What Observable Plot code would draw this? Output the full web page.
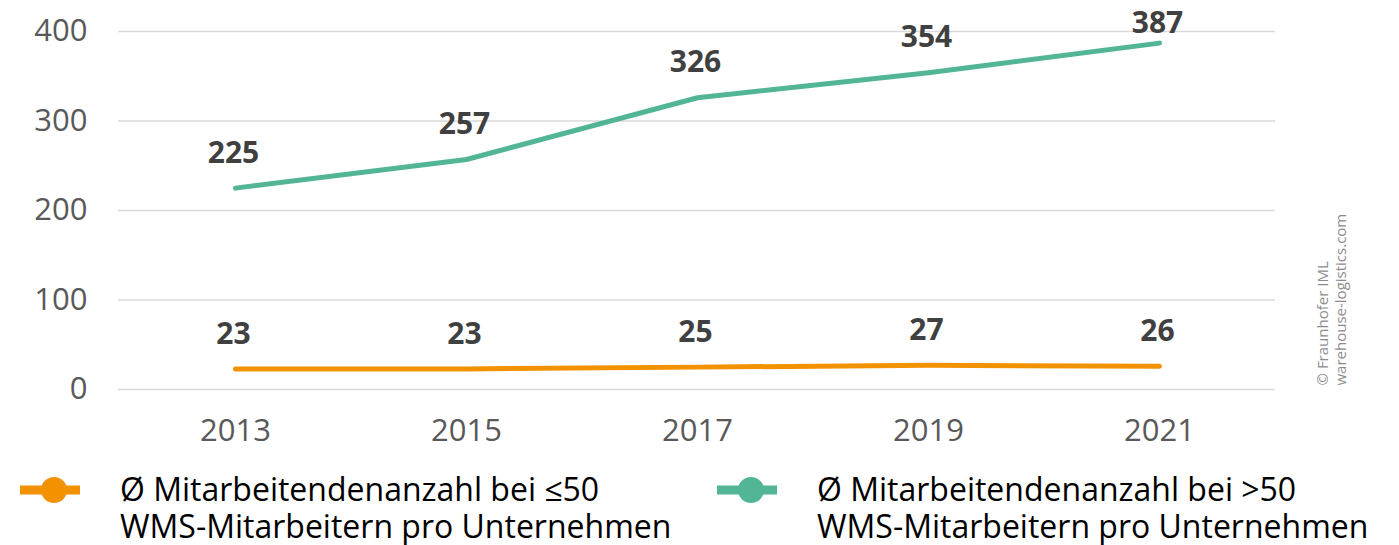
<!DOCTYPE html>
<html>
<head>
<meta charset="utf-8">
<script src="https://cdn.jsdelivr.net/npm/d3@7"></script>
<script src="https://cdn.jsdelivr.net/npm/@observablehq/plot@0.6"></script>
<style>
  html, body { margin: 0; padding: 0; background: #fff; }
  body { width: 1399px; height: 545px; overflow: hidden; font-family: "Open Sans", sans-serif; }
  #chart svg { display: block; }
  #legend { position: relative; height: 95px; }
  .item { position: absolute; top: 20px; display: flex; align-items: flex-start; }
  .item svg { display: block; margin-top: 4px; }
  .label { font-size: 32px; color: #000; margin-left: 38px; white-space: nowrap; }
  .label div { height: 37px; line-height: 37px; }
</style>
</head>
<body>
<div id="chart"></div>
<div id="legend"></div>
<script>
const years = ["2013", "2015", "2017", "2019", "2021"];
const smallValues = [23, 23, 25, 27, 26];
const largeValues = [225, 257, 326, 354, 387];
const yTicks = [0, 100, 200, 300, 400];
const seriesNames = [
  "Ø Mitarbeitendenanzahl bei ≤50\nWMS-Mitarbeitern pro Unternehmen",
  "Ø Mitarbeitendenanzahl bei >50\nWMS-Mitarbeitern pro Unternehmen"
];
const seriesColors = ["#f39200", "#52b596"];
const credit = "© Fraunhofer IML\nwarehouse-logistics.com";

const small = years.map((y, i) => ({year: y, value: smallValues[i]}));
const large = years.map((y, i) => ({year: y, value: largeValues[i]}));
const lastYear = years[years.length - 1];

const plot = Plot.plot({
  width: 1399,
  height: 450,
  marginLeft: 118,
  marginRight: 124,
  marginTop: 31,
  marginBottom: 61,
  style: {fontFamily: "Open Sans", fontSize: "31px", color: "#595959", background: "#fff"},
  x: {type: "point", domain: years, padding: 0.5, label: null, tickSize: 0, tickPadding: 29},
  y: {domain: [0, 400], ticks: yTicks, label: null, tickSize: 0, tickPadding: 31},
  marks: [
    Plot.gridY(yTicks, {stroke: "#d9d9d9", strokeOpacity: 1, strokeWidth: 1.5}),
    Plot.axisX({tickSize: 0, tickPadding: 29, fontSize: 31}),
    Plot.axisY({ticks: yTicks, tickSize: 0, tickPadding: 31, fontSize: 31}),
    Plot.line(small, {x: "year", y: "value", stroke: seriesColors[0], strokeWidth: 5, strokeLinecap: "round", strokeLinejoin: "round"}),
    Plot.line(large, {x: "year", y: "value", stroke: seriesColors[1], strokeWidth: 5, strokeLinecap: "round", strokeLinejoin: "round"}),
    Plot.text(small, {x: "year", y: "value", text: d => String(d.value), dx: -2, dy: -35, lineAnchor: "middle", fontWeight: "bold", fontSize: 30, fill: "#404040"}),
    Plot.text(large.filter(d => d.year !== lastYear), {x: "year", y: "value", text: d => String(d.value), dx: -2, dy: -35, lineAnchor: "middle", fontWeight: "bold", fontSize: 30, fill: "#404040"}),
    Plot.text(large.filter(d => d.year === lastYear), {x: "year", y: "value", text: d => String(d.value), dx: -2, dy: -20, lineAnchor: "middle", fontWeight: "bold", fontSize: 30, fill: "#404040"}),
    Plot.text([credit], {frameAnchor: "bottom-right", text: d => d, rotate: -90, textAnchor: "start", lineAnchor: "top", lineHeight: 1.2, dx: 40, dy: -4, fontSize: 15, fill: "#8c8c8c"})
  ]
});
document.getElementById("chart").appendChild(plot);

const legend = document.getElementById("legend");
const positions = [18, 715];
seriesNames.forEach((name, i) => {
  const item = document.createElement("div");
  item.className = "item";
  item.style.left = positions[i] + "px";
  item.innerHTML = `<svg width="64" height="30"><line x1="2" y1="16" x2="62" y2="16" stroke="${seriesColors[i]}" stroke-width="9"/><circle cx="36" cy="16" r="13" fill="${seriesColors[i]}"/></svg>`;
  const lab = document.createElement("div");
  lab.className = "label";
  name.split("\n").forEach(line => {
    const l = document.createElement("div");
    l.textContent = line;
    lab.appendChild(l);
  });
  item.appendChild(lab);
  legend.appendChild(item);
});
</script>
</body>
</html>
